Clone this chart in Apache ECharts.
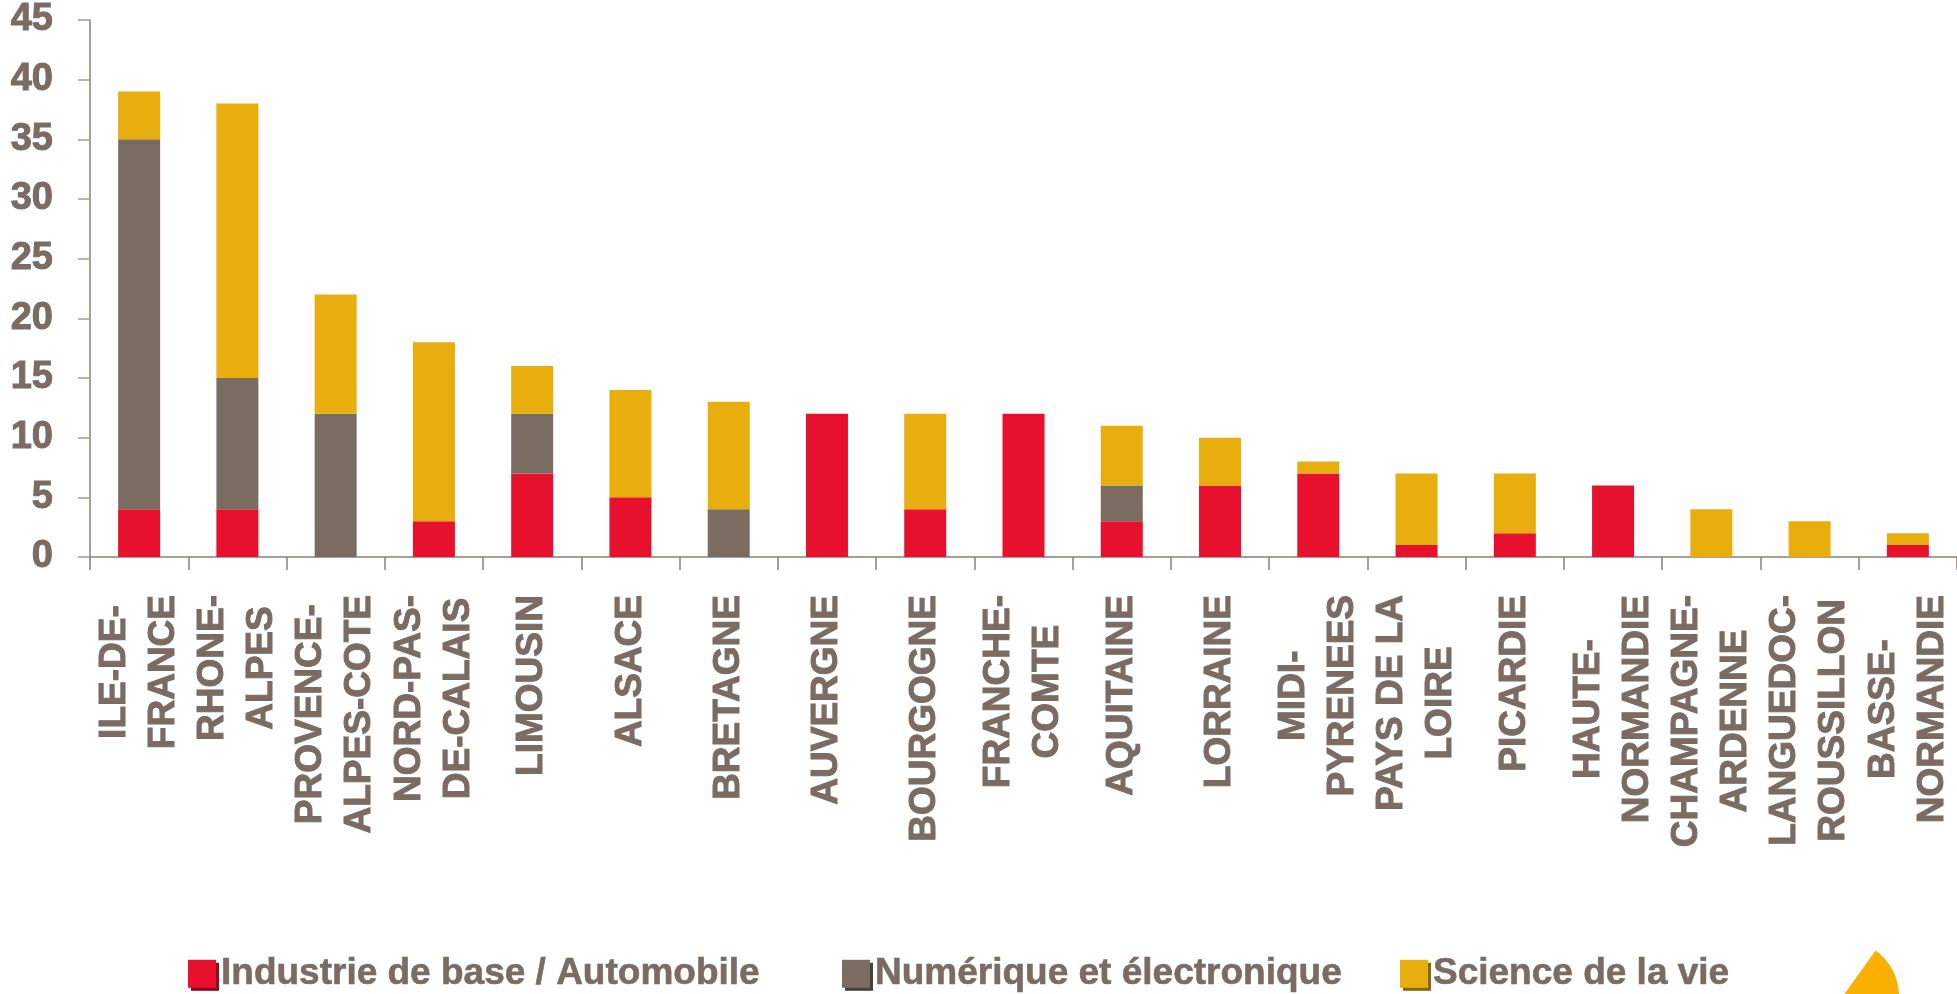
<!DOCTYPE html>
<html>
<head>
<meta charset="utf-8">
<script src="https://cdn.jsdelivr.net/npm/echarts@6/dist/echarts.min.js"></script>
<style>
  body { margin: 0; background: #fff; }
  #main { width: 1957px; height: 994px; }
</style>
</head>
<body>
<div id="main"></div>
<script>
// régions (libellés sur deux lignes comme dans l'original)
var regions = [
  'ILE-DE-\nFRANCE', 'RHONE-\nALPES', 'PROVENCE-\nALPES-COTE', 'NORD-PAS-\nDE-CALAIS',
  'LIMOUSIN', 'ALSACE', 'BRETAGNE', 'AUVERGNE', 'BOURGOGNE', 'FRANCHE-\nCOMTE',
  'AQUITAINE', 'LORRAINE', 'MIDI-\nPYRENEES', 'PAYS DE LA\nLOIRE', 'PICARDIE',
  'HAUTE-\nNORMANDIE', 'CHAMPAGNE-\nARDENNE', 'LANGUEDOC-\nROUSSILLON', 'BASSE-\nNORMANDIE'
];

var seriesNames = ['Industrie de base / Automobile', 'Numérique et électronique', 'Science de la vie'];

// valeurs
var industrie = [4, 4, 0, 3, 7, 5, 0, 12, 4, 12, 3, 6, 7, 1, 2, 6, 0, 0, 1];
var numerique = [31, 11, 12, 0, 5, 0, 4, 0, 0, 0, 3, 0, 0, 0, 0, 0, 0, 0, 0];
var science   = [4, 23, 10, 15, 4, 9, 9, 0, 8, 0, 5, 4, 1, 6, 5, 0, 4, 3, 1];

var yTicks = { min: 0, max: 45, interval: 5 };

var textColor = '#7a6c62';
var font = "'Liberation Sans', Arial, sans-serif";
var colors = ['#e8112d', '#7a6c61', '#e8ae0e'];
var shadows = ['#8a0a1b', '#4a413a', '#8a6608'];

var chart = echarts.init(document.getElementById('main'));

// une légende par série, placées comme dans l'original
function legendAt(i, left) {
  return {
    data: [seriesNames[i]],
    left: left,
    top: 955,
    padding: 0,
    itemWidth: 28,
    itemHeight: 28,
    itemGap: 5,
    icon: 'rect',
    itemStyle: {
      shadowColor: shadows[i],
      shadowOffsetX: 3,
      shadowOffsetY: 3,
      shadowBlur: 0
    },
    textStyle: {
      color: textColor,
      fontFamily: font,
      fontWeight: 'bold',
      fontSize: 37,
      textBorderColor: textColor,
      textBorderWidth: 0.6
    }
  };
}

var option = {
  animation: false,
  color: colors,
  grid: {
    left: 90,
    top: 20,
    bottom: 437,
    right: -10,
    containLabel: false
  },
  legend: [legendAt(0, 188), legendAt(1, 842), legendAt(2, 1400)],
  xAxis: {
    type: 'category',
    data: regions,
    axisLine: { lineStyle: { color: '#8c8078', width: 1.5 } },
    axisTick: { show: true, length: 13, lineStyle: { color: '#8c8078', width: 1.5 } },
    axisLabel: {
      interval: 0,
      rotate: 90,
      margin: 38,
      hideOverlap: false,
      formatter: function (v) {
        return v.split('\n').map(function (s) { return '{c|' + s + '}'; }).join('\n');
      },
      rich: {
        c: {
          align: 'center',
          color: textColor,
          fontFamily: font,
          fontWeight: 'bold',
          fontSize: 37,
          lineHeight: 49,
          textBorderColor: textColor,
          textBorderWidth: 1
        }
      }
    }
  },
  yAxis: {
    type: 'value',
    min: yTicks.min,
    max: yTicks.max,
    interval: yTicks.interval,
    splitLine: { show: false },
    axisLine: { show: true, lineStyle: { color: '#8c8078', width: 1.5 } },
    axisTick: { show: true, length: 12, lineStyle: { color: '#a69c95', width: 1.5 } },
    axisLabel: {
      margin: 37,
      color: textColor,
      fontFamily: font,
      fontWeight: 'bold',
      fontSize: 38,
      textBorderColor: textColor,
      textBorderWidth: 1
    }
  },
  series: [
    { name: seriesNames[0], type: 'bar', stack: 'total', barWidth: 42, data: industrie },
    { name: seriesNames[1], type: 'bar', stack: 'total', barWidth: 42, data: numerique },
    { name: seriesNames[2], type: 'bar', stack: 'total', barWidth: 42, data: science }
  ],
  graphic: [{
    type: 'sector',
    shape: { cx: 1843, cy: 996, r: 56, startAngle: -0.95, endAngle: 0 },
    style: { fill: '#f9b000' }
  }]
};

chart.setOption(option);
</script>
</body>
</html>
